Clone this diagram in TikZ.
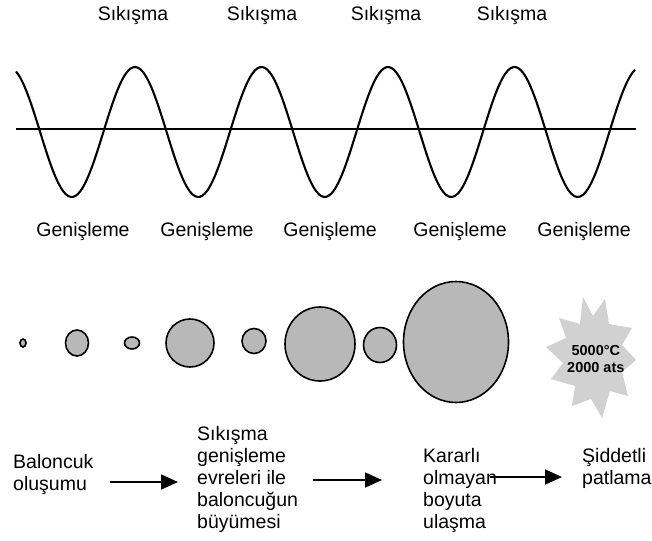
\documentclass[tikz,border=0pt]{standalone}
\usepackage{fontspec}
\setmainfont{Liberation Sans}
\usetikzlibrary{arrows.meta}
\definecolor{bubblegray}{gray}{0.72}
\definecolor{stargray}{gray}{0.82}
\begin{document}
\begin{tikzpicture}[x=1pt,y=-1pt,
  lbl/.style={font=\fontsize{19.5}{22}\selectfont, inner sep=0pt, anchor=base},
  col/.style={font=\fontsize{19.5}{22}\selectfont, inner sep=0pt, anchor=base west},
  bubble/.style={draw=black, line width=1.6pt, fill=bubblegray},
  flow/.style={line width=1.8pt, -{Triangle[length=17pt,width=15pt]}}]
\useasboundingbox (0,0) rectangle (652,540);

% wave and axis
\draw[line width=1.5pt] (16,129) -- (636,129);
\draw[line width=2.1pt, line join=round] plot[domain=16:635, samples=250, smooth]
  (\x, {132-65*cos((\x-8.5)*2.84585)});

% labels
\foreach \xx/\nm in {133/s1,262/s2,386/s3,512/s4}
  \node[lbl] (\nm) at (\xx,20.5) {Sıkışma};
\foreach \xx/\nm in {83/g1,207/g2,330/g3,460/g4,584/g5}
  \node[lbl] (\nm) at (\xx,236) {Genişleme};

% bubbles
\draw[bubble] (23,343) ellipse [x radius=3pt, y radius=4pt];
\draw[bubble] (77,343) ellipse [x radius=11.5pt, y radius=13pt];
\draw[bubble] (132,343) ellipse [x radius=7.5pt, y radius=6pt];
\draw[bubble] (190,343) ellipse [x radius=24pt, y radius=24pt];
\draw[bubble] (254,341) ellipse [x radius=12pt, y radius=12.5pt];
\draw[bubble] (320,344) ellipse [x radius=35pt, y radius=37pt];
\draw[bubble] (380,345) ellipse [x radius=16.5pt, y radius=17.5pt];
\draw[bubble] (456,342) ellipse [x radius=52.5pt, y radius=60.5pt];

% explosion star
\fill[stargray] (583,297) -- (593,316) -- (605,299) -- (609,324) -- (632,328)
  -- (622,345) -- (636,360) -- (622,372) -- (628,396) -- (610,391)
  -- (602,418) -- (591,399) -- (572,406) -- (575,386) -- (551,379)
  -- (563,363) -- (546,347) -- (566,338) -- (559,318) -- (580,324) -- cycle;
\node[anchor=base west, inner sep=0pt, font=\bfseries\fontsize{14.5}{17}\selectfont] (st) at (567,355)
  {\begin{tabular}[t]{@{}c@{}}5000°C\\2000 ats\end{tabular}};

% process columns
\node[col] (c1) at (13,468) {\begin{tabular}[t]{@{}l@{}}Baloncuk\\oluşumu\end{tabular}};
\node[col] (c2) at (197,440) {\begin{tabular}[t]{@{}l@{}}Sıkışma\\genişleme\\evreleri ile\\baloncuğun\\büyümesi\end{tabular}};
\node[col] (c3) at (423,462) {\begin{tabular}[t]{@{}l@{}}Kararlı\\olmayan\\boyuta\\ulaşma\end{tabular}};
\node[col] (c4) at (582,462) {\begin{tabular}[t]{@{}l@{}}Şiddetli\\patlama\end{tabular}};

% arrows
\coordinate (a1s) at (110,482); \coordinate (a1e) at (178,482);
\coordinate (a2s) at (313,480); \coordinate (a2e) at (382,480);
\coordinate (a3s) at (490,477); \coordinate (a3e) at (562,477);
\draw[flow] (a1s) -- (a1e);
\draw[flow] (a2s) -- (a2e);
\draw[flow] (a3s) -- (a3e);
\end{tikzpicture}
\end{document}
